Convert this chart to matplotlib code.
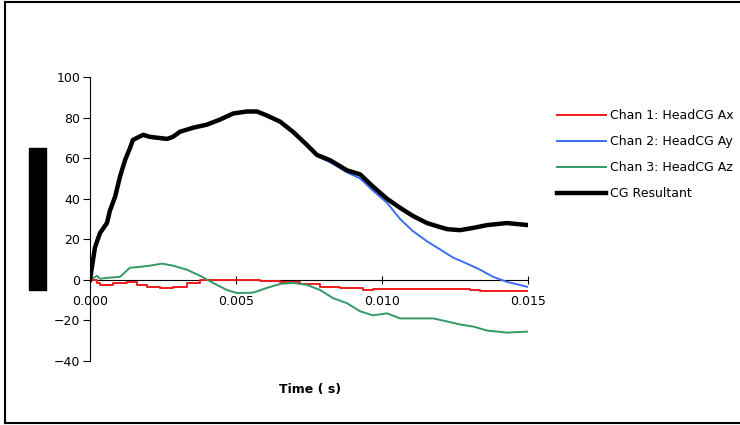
import matplotlib
matplotlib.use("Agg")
import matplotlib.pyplot as plt
from matplotlib.lines import Line2D
from matplotlib.patches import Rectangle

# ---- data (time in seconds, acceleration values) ----
t_res = [0, 0.00017, 0.00034, 0.00058, 0.00068, 0.00086, 0.00103, 0.0012, 0.00137, 0.00147,
         0.00161, 0.00182, 0.00205, 0.00264, 0.00284, 0.00308, 0.00353, 0.004, 0.00445, 0.0049,
         0.00538, 0.00572, 0.00606, 0.00651, 0.00695, 0.00743, 0.00777, 0.00822, 0.0088, 0.00925,
         0.00969, 0.01017, 0.01062, 0.01106, 0.01154, 0.01199, 0.01223, 0.01267, 0.01312, 0.0136,
         0.01428, 0.015]
v_res = [0, 16, 23, 28, 34, 41, 51, 59, 65, 69,
         70, 71.5, 70.5, 69.5, 70.5, 73, 75, 76.5, 79, 82,
         83, 83, 81, 78, 73, 66.5, 61.6, 59, 54, 52,
         46, 40, 35.5, 31.5, 28, 26, 25, 24.5, 25.6, 27,
         28, 27]

t_ay = [0, 0.00017, 0.00034, 0.00058, 0.00068, 0.00086, 0.00103, 0.0012, 0.00137, 0.00147,
        0.00161, 0.00182, 0.00205, 0.00264, 0.00284, 0.00308, 0.00353, 0.004, 0.00445, 0.0049,
        0.00538, 0.00572, 0.00606, 0.00651, 0.00695, 0.00743, 0.00777, 0.00822, 0.0088, 0.00925,
        0.00969, 0.01017, 0.01062, 0.01106, 0.01154, 0.01199, 0.01243, 0.01291, 0.01336, 0.0138,
        0.01428, 0.015]
v_ay = [0, 16, 23, 28, 34, 41, 51, 59, 65, 69,
        70, 71, 70, 69, 70, 73, 75, 76.5, 79, 82,
        83, 83, 81, 78, 73, 66.5, 61, 58, 53, 50,
        44, 38, 30, 24, 19, 15, 11, 8, 5, 1.5,
        -1, -3.5]

t_az = [0, 0.00024, 0.00034, 0.00058, 0.00103, 0.00137, 0.00171, 0.00205, 0.00247, 0.00284,
        0.00332, 0.00377, 0.00421, 0.00469, 0.00503, 0.00558, 0.00606, 0.00651, 0.00695, 0.00743,
        0.00788, 0.00832, 0.0088, 0.00925, 0.00969, 0.01017, 0.01062, 0.01106, 0.01175, 0.01223,
        0.01267, 0.01312, 0.0136, 0.01428, 0.015]
v_az = [0, 2, 0.5, 1, 1.5, 6, 6.4, 7, 8, 7,
        5, 2, -1.5, -5, -6.5, -6.3, -4, -2, -1.5, -2.5,
        -5, -9, -11.5, -15.5, -17.5, -16.5, -19, -19, -19, -20.5,
        -22, -23, -25, -26, -25.5]

t_ax = [0, 0.00024, 0.00034, 0.00079, 0.00127, 0.00161, 0.00195, 0.0024, 0.00284, 0.00332,
        0.00377, 0.0049, 0.00582, 0.00651, 0.00719, 0.00788, 0.00856, 0.00935, 0.00969, 0.01106,
        0.01301, 0.01336, 0.015]
v_ax = [0, -1.5, -2.5, -1.5, -1, -2.5, -3.5, -4, -3.5, -1.5,
        0, 0, -0.5, -1, -2, -3.5, -4, -5, -4.5, -4.5,
        -5, -5.7, -5.7]

labels = ["Chan 1: HeadCG Ax", "Chan 2: HeadCG Ay", "Chan 3: HeadCG Az", "CG Resultant"]
x_ticks = [0.0, 0.005, 0.010, 0.015]
x_ticklabels = ["0.000", "0.005", "0.010", "0.015"]
y_ticks = [-40, -20, 0, 20, 40, 60, 80, 100]

# ---- figure ----
fig = plt.figure(figsize=(7.4, 4.25), dpi=100)
ax = fig.add_axes([90/740, 1-361/425, 438/740, 284/425])

l1, = ax.plot(t_ax, v_ax, color="#ee1c1c", lw=1.4, drawstyle="steps-post")
l2, = ax.plot(t_ay, v_ay, color="#3b6ff5", lw=1.4)
l3, = ax.plot(t_az, v_az, color="#339966", lw=1.4)
l4, = ax.plot(t_res, v_res, color="black", lw=3.2)

ax.set_xlim(0, 0.015)
ax.set_ylim(-40, 100)
ax.spines["top"].set_visible(False)
ax.spines["right"].set_visible(False)
ax.spines["bottom"].set_position(("data", 0))
ax.spines["bottom"].set_zorder(1)
ax.set_xticks(x_ticks)
ax.set_xticklabels(x_ticklabels)
ax.set_yticks(y_ticks)
ax.tick_params(axis="y", direction="out", length=5, labelsize=9, pad=2)
ax.tick_params(axis="x", direction="inout", length=6, labelsize=9, pad=8)

fig.text(310/740, 1-390/425, "Time ( s)", ha="center", va="center",
         fontsize=9, fontweight="bold")

fig.legend([l1, l2, l3, l4], labels, loc="upper left",
           bbox_to_anchor=(552/740, 1-104/425), frameon=False,
           fontsize=9, handlelength=3.9, labelspacing=1.05, handletextpad=0.3,
           borderaxespad=0)

# redaction block
fig.patches.append(Rectangle((29/740, 1-290/425), 17/740, 142/425,
                             transform=fig.transFigure, color="black"))
# frame lines
for xs, ys in [((5/740, 5/740), (2/425, 1-2/425)),
               ((5/740, 1.0), (1-2/425, 1-2/425)),
               ((5/740, 1.0), (2/425, 2/425))]:
    fig.add_artist(Line2D(xs, ys, transform=fig.transFigure, color="black", lw=1.5))

fig.savefig("out.png", dpi=100)
